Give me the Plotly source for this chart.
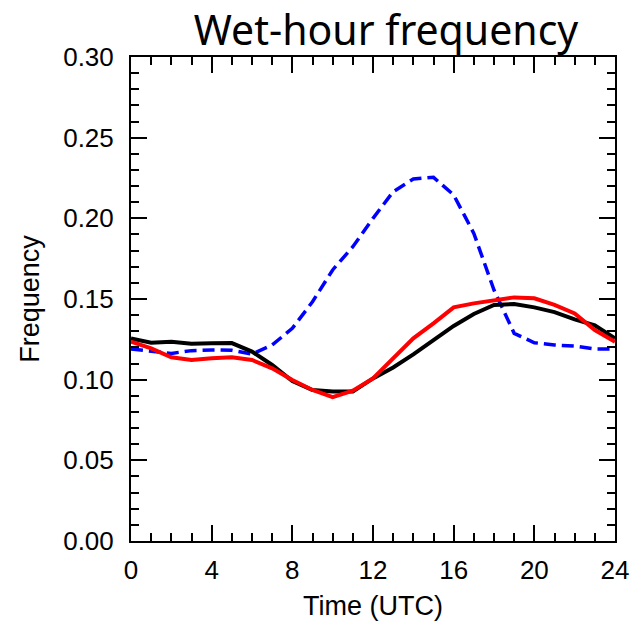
import plotly.graph_objects as go

hours = list(range(25))
black = [0.1256, 0.1229, 0.1235, 0.1223, 0.1225, 0.1227, 0.1174, 0.1091, 0.0992, 0.0936,
         0.0926, 0.0926, 0.1008, 0.1076, 0.1157, 0.1242, 0.1333, 0.1407, 0.1463, 0.1469,
         0.1448, 0.1419, 0.1374, 0.1337, 0.1256]
red = [0.1235, 0.1194, 0.1139, 0.1122, 0.1132, 0.1139, 0.1122, 0.1070, 0.0998, 0.0936,
       0.0891, 0.0932, 0.1008, 0.1132, 0.1256, 0.1349, 0.1448, 0.1473, 0.1494, 0.1510,
       0.1504, 0.1463, 0.1411, 0.1308, 0.1235]
blue = [0.1190, 0.1174, 0.1163, 0.1180, 0.1184, 0.1182, 0.1159, 0.1215, 0.1318, 0.1483,
        0.1680, 0.1824, 0.2000, 0.2165, 0.2244, 0.2254, 0.2145, 0.1907, 0.1556, 0.1287,
        0.1229, 0.1215, 0.1208, 0.1190, 0.1190]
x_ticks = [0, 4, 8, 12, 16, 20, 24]
y_ticks = [0.00, 0.05, 0.10, 0.15, 0.20, 0.25, 0.30]
y_labels = ["0.00", "0.05", "0.10", "0.15", "0.20", "0.25", "0.30"]

W, H = 632, 625

fig = go.Figure()
fig.add_trace(go.Scatter(x=hours, y=blue, mode="lines",
                         line=dict(color="#0000ff", width=3.5, dash="12px,6px")))
fig.add_trace(go.Scatter(x=hours, y=black, mode="lines",
                         line=dict(color="black", width=4)))
fig.add_trace(go.Scatter(x=hours, y=red, mode="lines",
                         line=dict(color="#ff0000", width=4)))

fig.update_layout(
    width=W, height=H,
    margin=dict(l=131, r=17, t=57, b=84),
    paper_bgcolor="white", plot_bgcolor="white",
    showlegend=False,
    title=dict(text="Wet-hour frequency", x=386 / W, xanchor="center",
               y=1 - 31 / H, yanchor="middle",
               font=dict(family="Noto Sans", size=41, color="black")),
    font=dict(family="Liberation Sans, Arial", color="black"),
)
fig.update_xaxes(range=[0, 24], tickvals=x_ticks, ticks="inside", ticklen=16, tickwidth=2,
                 tickcolor="black", showline=True, linecolor="black", linewidth=2,
                 mirror="ticks", showgrid=False, zeroline=False, ticklabelstandoff=5,
                 automargin=False,
                 tickfont=dict(size=26), title=dict(text="Time (UTC)", font=dict(size=27), standoff=12),
                 minor=dict(ticks="inside", dtick=1, ticklen=8, tickwidth=1.5, tickcolor="black", showgrid=False))
fig.update_yaxes(range=[0, 0.30], tickvals=y_ticks, ticktext=y_labels, ticks="inside", ticklen=16, tickwidth=2,
                 tickcolor="black", showline=True, linecolor="black", linewidth=2,
                 mirror="ticks", showgrid=False, zeroline=False, ticklabelstandoff=10,
                 automargin=False,
                 tickfont=dict(size=26), title=dict(text="Frequency", font=dict(size=27), standoff=16),
                 minor=dict(ticks="inside", dtick=0.01, ticklen=8, tickwidth=1.5, tickcolor="black", showgrid=False))

# remove the default 8px page margin so the 632x625 figure fills the window exactly
fig.write_html("out.html", config={"displayModeBar": False},
               post_script="document.body.style.margin='0';document.body.style.overflow='hidden';")
